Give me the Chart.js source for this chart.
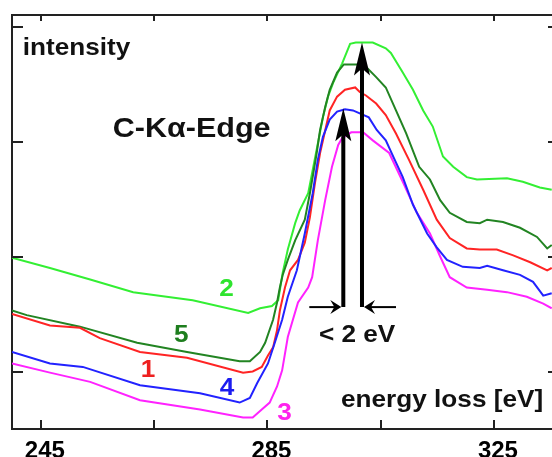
<!DOCTYPE html>
<html><head><meta charset="utf-8">
<script src="https://cdn.jsdelivr.net/npm/chart.js@4"></script>
<style>html,body{margin:0;padding:0;background:#fff;}</style>
</head><body>
<canvas id="c" width="552" height="457"></canvas>
<script>
// ---- data: [energy loss (eV), intensity (a.u.)] ----
const curve1 = [[239.9,0.50],[246.6,0.40],[251.9,0.38],[255.4,0.29],[262.5,0.17],[270.8,0.12],[280.7,-0.01],[282.4,0.00],[284.0,0.04],[285.1,0.14],[286.0,0.21],[286.7,0.36],[287.2,0.53],[288.1,0.73],[289.0,0.88],[290.4,0.97],[291.6,1.12],[292.5,1.34],[293.4,1.64],[294.3,1.90],[296.0,2.27],[297.3,2.39],[298.7,2.45],[300.5,2.47],[301.3,2.43],[302.4,2.40],[304.2,2.33],[305.9,2.23],[307.7,2.07],[310.0,1.84],[312.5,1.58],[314.9,1.32],[317.2,1.16],[320.2,1.07],[322.5,1.06],[325.5,1.06],[328.4,1.01],[331.4,0.95],[334.4,0.88],[335.2,0.90]];
const curve2 = [[239.9,0.99],[246.6,0.90],[253.7,0.80],[261.3,0.69],[271.8,0.62],[281.6,0.51],[283.7,0.55],[285.8,0.57],[286.9,0.62],[287.7,0.86],[288.6,1.06],[289.9,1.29],[290.7,1.40],[292.2,1.55],[293.7,1.93],[294.8,2.21],[295.7,2.39],[296.6,2.51],[298.2,2.68],[299.6,2.85],[300.6,2.86],[303.6,2.86],[305.9,2.81],[306.8,2.77],[308.9,2.60],[310.7,2.45],[312.5,2.27],[314.2,2.13],[316.0,1.87],[317.8,1.78],[320.2,1.69],[322.0,1.67],[327.3,1.68],[330.1,1.65],[333.1,1.60],[335.2,1.58]];
const curve3 = [[239.9,0.07],[246.6,-0.01],[253.7,-0.09],[262.5,-0.25],[273.1,-0.33],[280.7,-0.40],[282.4,-0.40],[284.0,-0.33],[285.4,-0.27],[286.7,-0.13],[287.6,0.01],[288.6,0.30],[290.4,0.60],[292.2,0.73],[292.9,0.82],[293.9,1.14],[295.2,1.49],[296.4,1.78],[297.5,1.97],[298.2,2.03],[299.8,2.08],[301.9,2.08],[303.6,2.01],[306.5,1.90],[308.9,1.65],[311.4,1.38],[313.7,1.20],[315.5,1.00],[317.2,0.82],[320.2,0.73],[323.8,0.71],[327.3,0.69],[330.8,0.65],[333.7,0.59],[335.2,0.55]];
const curve4 = [[239.9,0.17],[246.6,0.07],[252.4,0.04],[262.5,-0.12],[273.1,-0.19],[280.1,-0.27],[281.9,-0.23],[283.2,-0.10],[285.1,0.07],[286.3,0.25],[287.6,0.45],[288.6,0.65],[290.2,0.88],[291.6,1.20],[293.0,1.55],[293.9,1.84],[294.8,2.04],[296.0,2.19],[297.3,2.26],[298.7,2.28],[300.1,2.27],[302.9,2.21],[304.3,2.10],[305.9,2.01],[307.2,1.87],[308.9,1.69],[310.7,1.45],[313.2,1.20],[314.9,1.08],[316.7,0.97],[319.5,0.91],[322.5,0.90],[323.8,0.92],[326.6,0.88],[329.6,0.84],[331.9,0.78],[333.7,0.66],[335.2,0.68]];
const curve5 = [[239.9,0.53],[242.5,0.49],[251.9,0.39],[262.0,0.25],[270.8,0.17],[280.1,0.09],[281.9,0.09],[283.7,0.17],[284.6,0.25],[286.0,0.45],[286.7,0.60],[287.2,0.73],[287.7,0.84],[288.6,0.97],[289.9,1.14],[291.6,1.32],[292.5,1.55],[293.4,1.81],[293.7,1.90],[294.3,2.10],[295.2,2.30],[296.0,2.45],[297.3,2.60],[298.5,2.67],[301.3,2.67],[302.0,2.67],[304.2,2.56],[305.9,2.47],[307.7,2.27],[309.5,2.07],[311.8,1.78],[313.7,1.67],[315.5,1.49],[317.2,1.38],[320.2,1.30],[322.5,1.29],[323.8,1.32],[326.6,1.30],[329.6,1.25],[332.6,1.17],[334.4,1.07],[335.2,1.10]];
const xTickValues = [245, 265, 285, 305, 325];
const xTickLabels = ['245', '', '285', '', '325'];
const yTickValues = [0, 1, 2, 3];
// peak markers: energy, base intensity, tip intensity
const peakArrows = [[298.4, 0.56, 2.29], [301.7, 0.56, 2.86]];

// ---- styles / layout ----
const SX = 1.09; // horizontal text stretch seen in the original
const FONT = '"Liberation Sans", Arial, sans-serif';
const seriesStyle = [
  {data: curve4, color: '#2222ff', label: '4', lc: '#1c1cf0', lx: 277.85, ly: -0.20},
  {data: curve1, color: '#ff2424', label: '1', lc: '#ee2020', lx: 263.9, ly: -0.05},
  {data: curve5, color: '#228422', label: '5', lc: '#1e7e1e', lx: 269.8, ly: 0.26},
  {data: curve2, color: '#33ef33', label: '2', lc: '#2ee42e', lx: 277.8, ly: 0.66},
  {data: curve3, color: '#ff22ff', label: '3', lc: '#ff22ee', lx: 288.0, ly: -0.42}
];
const texts = [
  {t: 'intensity', x: 241.8, y: 2.75, size: 24, align: 'left'},
  {t: 'C-K\u03B1-Edge', x: 257.7, y: 2.04, size: 28, align: 'left'},
  {t: '< 2 eV', x: 294.1, y: 0.26, size: 24, align: 'left'},
  {t: 'energy loss [eV]', x: 298.0, y: -0.31, size: 24, align: 'left'}
];

function stretchedText(ctx, str, x, y, size, color, align) {
  ctx.save();
  ctx.font = 'bold ' + size + 'px ' + FONT;
  ctx.fillStyle = color;
  ctx.textAlign = 'left';
  ctx.textBaseline = 'alphabetic';
  const w = ctx.measureText(str).width * SX;
  const x0 = align === 'center' ? x - w / 2 : x;
  ctx.translate(x0, y);
  ctx.scale(SX, 1);
  ctx.fillText(str, 0, 0);
  ctx.restore();
}

const inwardTicks = {
  id: 'inwardTicks',
  afterDraw(chart) {
    const {ctx, chartArea: a, scales: {x, y}} = chart;
    ctx.save();
    ctx.strokeStyle = '#222';
    ctx.lineWidth = 2;
    const seg = (x1, y1, x2, y2) => { ctx.beginPath(); ctx.moveTo(x1, y1); ctx.lineTo(x2, y2); ctx.stroke(); };
    x.ticks.forEach(t => {
      const px = Math.round(x.getPixelForValue(t.value));
      seg(px, a.bottom, px, a.bottom - 9);
      seg(px, a.top, px, a.top + 6);
    });
    y.ticks.forEach(t => {
      const py = Math.round(y.getPixelForValue(t.value));
      seg(a.left, py, a.left + 11, py);
      seg(a.right, py, a.right - 4, py);
    });
    ctx.restore();
  }
};

const annotations = {
  id: 'annotations',
  afterDatasetsDraw(chart) {
    const {ctx, scales: {x, y}} = chart;
    // curve numbers
    seriesStyle.forEach(s => stretchedText(ctx, s.label, x.getPixelForValue(s.lx), y.getPixelForValue(s.ly), 24, s.lc, 'center'));
    texts.forEach(t => stretchedText(ctx, t.t, x.getPixelForValue(t.x), y.getPixelForValue(t.y), t.size, '#111', t.align));
    // vertical peak arrows
    ctx.save();
    ctx.fillStyle = '#000';
    ctx.strokeStyle = '#000';
    const px = [];
    peakArrows.forEach(p => {
      const cx = x.getPixelForValue(p[0]);
      const yb = y.getPixelForValue(p[1]);
      const yt = y.getPixelForValue(p[2]);
      px.push(cx);
      ctx.lineWidth = 4;
      ctx.beginPath(); ctx.moveTo(cx, yb); ctx.lineTo(cx, yt + 20); ctx.stroke();
      ctx.beginPath();
      ctx.moveTo(cx, yt);
      ctx.lineTo(cx - 8, yt + 33);
      ctx.lineTo(cx, yt + 26);
      ctx.lineTo(cx + 8, yt + 33);
      ctx.closePath(); ctx.fill();
    });
    // horizontal "< 2 eV" arrows
    const yh = y.getPixelForValue(peakArrows[0][1]);
    const l = px[0] - 2, r = px[1] + 2;
    ctx.lineWidth = 2;
    ctx.beginPath(); ctx.moveTo(l - 32, yh); ctx.lineTo(l - 6, yh); ctx.stroke();
    ctx.beginPath(); ctx.moveTo(r + 32, yh); ctx.lineTo(r + 6, yh); ctx.stroke();
    ctx.beginPath(); ctx.moveTo(l, yh); ctx.lineTo(l - 11, yh - 7); ctx.lineTo(l - 7, yh); ctx.lineTo(l - 11, yh + 7); ctx.closePath(); ctx.fill();
    ctx.beginPath(); ctx.moveTo(r, yh); ctx.lineTo(r + 11, yh - 7); ctx.lineTo(r + 7, yh); ctx.lineTo(r + 11, yh + 7); ctx.closePath(); ctx.fill();
    ctx.restore();
  }
};

new Chart(document.getElementById('c'), {
  type: 'line',
  data: {
    datasets: seriesStyle.map(s => ({
      label: s.label,
      data: s.data.map(p => ({x: p[0], y: p[1]})),
      borderColor: s.color,
      borderWidth: 2,
      pointRadius: 0,
      tension: 0,
      fill: false
    }))
  },
  options: {
    responsive: false,
    animation: false,
    devicePixelRatio: 1,
    layout: {padding: {left: 12, top: 15, right: 0, bottom: 0}},
    plugins: {legend: {display: false}, tooltip: {enabled: false}},
    scales: {
      x: {
        type: 'linear', position: 'bottom', min: 239.9, max: 335.25,
        afterBuildTicks: s => { s.ticks = xTickValues.map(v => ({value: v})); },
        afterFit: s => { s.height = 28; },
        grid: {display: false, drawTicks: false},
        border: {display: true, color: '#222', width: 2},
        ticks: {
          padding: 8, labelOffset: 4, maxRotation: 0, autoSkip: false, color: '#000',
          font: {family: FONT, size: 24, weight: 'bold'},
          callback: (v, i) => xTickLabels[i]
        }
      },
      xTop: {
        type: 'linear', position: 'top', min: 239.9, max: 335.25,
        grid: {display: false, drawTicks: false},
        border: {display: true, color: '#222', width: 2},
        ticks: {display: false}
      },
      y: {
        type: 'linear', position: 'left', min: -0.5, max: 3.1,
        afterBuildTicks: s => { s.ticks = yTickValues.map(v => ({value: v})); },
        grid: {display: false, drawTicks: false},
        border: {display: true, color: '#222', width: 2},
        ticks: {display: false}
      }
    }
  },
  plugins: [inwardTicks, annotations]
});
</script>
</body></html>
